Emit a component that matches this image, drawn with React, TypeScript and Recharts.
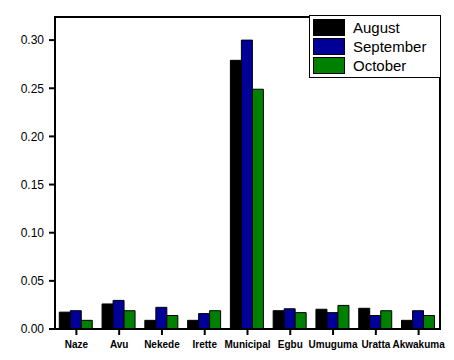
import { BarChart, Bar, XAxis, YAxis } from 'recharts'

const sites = ['Naze', 'Avu', 'Nekede', 'Irette', 'Municipal', 'Egbu', 'Umuguma', 'Uratta', 'Akwakuma']
const august = [0.0175, 0.026, 0.009, 0.009, 0.279, 0.019, 0.0205, 0.0215, 0.009]
const september = [0.019, 0.0297, 0.0225, 0.016, 0.3, 0.021, 0.017, 0.014, 0.019]
const october = [0.009, 0.019, 0.014, 0.019, 0.249, 0.017, 0.0245, 0.019, 0.014]
const yTicks = [0, 0.05, 0.1, 0.15, 0.2, 0.25, 0.3]

const series = [
  { key: 'August', color: '#000000' },
  { key: 'September', color: '#000099' },
  { key: 'October', color: '#008000' },
]

const data = sites.map((s, i) => ({
  site: s,
  August: august[i],
  September: september[i],
  October: october[i],
}))

const font = 'Arial, "Liberation Sans", sans-serif'

// plot box (matches chart margins below)
const PLOT = { left: 55, top: 17, right: 440, bottom: 329 }

// ── Boxed legend in the top-right corner ─────────────────────────────────────
function BoxLegend() {
  return (
    <div
      style={{
        position: 'absolute',
        left: 309,
        top: 15,
        background: '#fff',
        border: '1px solid #000',
        width: 127,
        padding: '2px 0 2px 3px',
        fontFamily: font,
        fontSize: 15,
        lineHeight: '19px',
      }}
    >
      {series.map(s => (
        <div key={s.key} style={{ display: 'flex', alignItems: 'center', height: 19 }}>
          <span
            style={{
              display: 'inline-block',
              width: 30,
              height: 15,
              background: s.color,
              border: '1px solid #000',
              marginRight: 8,
            }}
          />
          {s.key}
        </div>
      ))}
    </div>
  )
}

export default function App() {
  return (
    <div style={{ position: 'absolute', left: 0, top: 0, width: 454, height: 360, background: '#fff' }}>
      <BarChart
        width={454}
        height={360}
        data={data}
        margin={{ top: PLOT.top, right: 454 - PLOT.right, left: 0, bottom: 0 }}
        barCategoryGap="10%"
        barGap={0}
      >
        <XAxis
          dataKey="site"
          interval={0}
          height={360 - PLOT.bottom}
          axisLine={{ stroke: '#000', strokeWidth: 2 }}
          tickLine={{ stroke: '#000', strokeWidth: 2 }}
          tickSize={6}
          tickMargin={6}
          tick={{ fill: '#000', fontSize: 10, fontWeight: 700, fontFamily: font }}
        />
        <YAxis
          width={PLOT.left}
          domain={[0, 0.324]}
          ticks={yTicks}
          allowDataOverflow
          tickFormatter={(v: number) => v.toFixed(2)}
          axisLine={{ stroke: '#000', strokeWidth: 2 }}
          tickLine={{ stroke: '#000', strokeWidth: 2 }}
          tickSize={6}
          tickMargin={5}
          tick={{ fill: '#000', fontSize: 12, fontFamily: font }}
        />
        {series.map(s => (
          <Bar
            key={s.key}
            dataKey={s.key}
            fill={s.color}
            stroke="#000"
            strokeWidth={1}
            isAnimationActive={false}
          />
        ))}
      </BarChart>
      {/* top and right edges of the frame */}
      <div
        style={{
          position: 'absolute',
          left: PLOT.left - 1,
          top: PLOT.top - 1,
          width: PLOT.right - PLOT.left,
          height: PLOT.bottom - PLOT.top,
          borderTop: '2px solid #000',
          borderRight: '2px solid #000',
          pointerEvents: 'none',
        }}
      />
      <BoxLegend />
    </div>
  )
}
